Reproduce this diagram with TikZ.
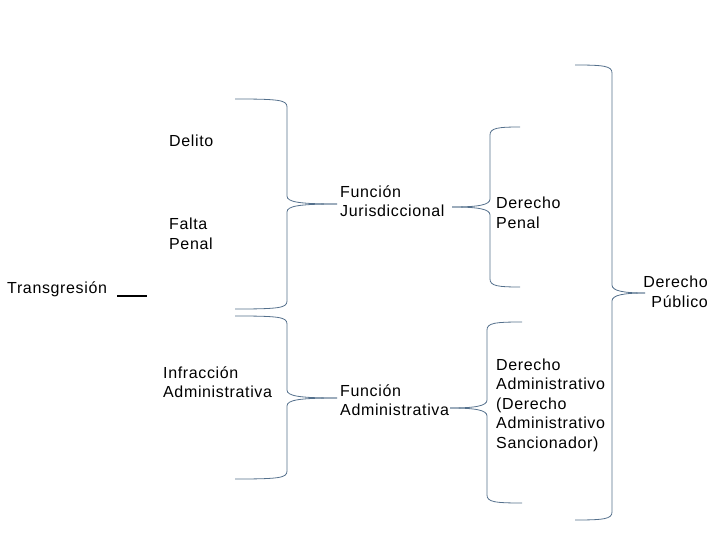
\documentclass[tikz,border=0pt]{standalone}
\usepackage{fontspec}
\setmainfont{Liberation Sans}[LetterSpace=4]
\definecolor{bracecol}{RGB}{84,112,140}
\newcommand\mybrace[7]{%
  \draw[bracestyle] (#1,#2) .. controls ({#3-#7*8},#2) and (#3,{#2+1}) .. (#3,{#2+8})
    -- (#3,{#6-8}) .. controls (#3,{#6-2}) and ({#3+#7*12},#6) .. (#5,#6);
  \draw[bracestyle] (#5,#6) .. controls ({#3+#7*12},#6) and (#3,{#6+2}) .. (#3,{#6+8})
    -- (#3,{#4-8}) .. controls (#3,{#4-1}) and ({#3-#7*8},#4) .. (#1,#4);
}
\begin{document}
\begin{tikzpicture}[x=1pt,y=-1pt,
  bracestyle/.style={draw=bracecol, line width=0.8pt},
  lbl/.style={inner sep=0pt, align=left, anchor=west, font=\fontsize{16}{19.5}\selectfont},
  lblr/.style={inner sep=0pt, align=right, anchor=east, font=\fontsize{16}{19.5}\selectfont}]
\useasboundingbox (0,0) rectangle (720,540);
% texts
\node[lbl] (delito) at (169,141) {Delito};
\node[lbl] (falta) at (169,234) {Falta\\Penal};
\node[lbl] (trans) at (7,289) {Transgresión};
\node[lbl] (infr) at (163,382) {Infracción\\Administrativa};
\node[lbl] (fjur) at (340,201) {Función\\Jurisdiccional};
\node[lbl] (fadm) at (340,400) {Función\\Administrativa};
\node[lbl] (dpen) at (496,213) {Derecho\\Penal};
\node[lbl] (dadm) at (496,405) {Derecho\\Administrativo\\(Derecho\\Administrativo\\Sancionador)};
\node[lblr] (dpub) at (708,292) {Derecho\\Público};
% line after Transgresión
\coordinate (t1) at (117,296);
\coordinate (t2) at (147,296);
\draw[line width=1.6pt] (t1) -- (t2);
% braces
\mybrace{235}{99}{287}{309}{337}{204}{1}
\mybrace{235}{316}{287}{479}{337}{398}{1}
\mybrace{520}{127}{490}{287}{452}{207}{-1}
\mybrace{522}{322}{487}{503}{450}{408}{-1}
\mybrace{575}{65}{612}{520}{645}{293}{1}
\end{tikzpicture}
\end{document}
